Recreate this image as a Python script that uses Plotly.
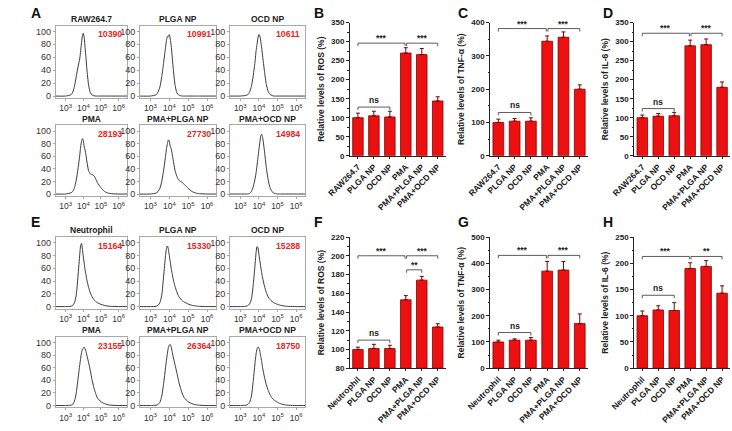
import plotly.graph_objects as go

W, H = 732, 431

# flow cytometry histograms: common log10 intensity grid and % of max counts
hist_log_x = [2.4, 3.0, 3.3, 3.4, 3.5, 3.6, 3.7, 3.8, 3.85, 3.9, 3.95, 4.0, 4.05, 4.1,
              4.15, 4.2, 4.3, 4.4, 4.5, 4.6, 4.7, 4.8, 5.0, 5.2, 5.4, 5.6, 6.0, 6.6]

a_raw = [0, 0, 2, 6, 15, 30, 45, 58, 70, 83, 93, 97, 90, 75, 60, 42, 17, 5, 1.5, 0.5, 0, 0, 0, 0, 0, 0, 0, 0]
a_plga = [0, 0, 2, 6, 14, 30, 52, 75, 86, 92, 92, 95, 88, 78, 62, 45, 18, 5, 1.5, 0.5, 0, 0, 0, 0, 0, 0, 0, 0]
a_ocd = [0, 0, 1, 2, 6, 15, 32, 55, 70, 80, 90, 95, 93, 85, 74, 62, 38, 18, 7, 2.5, 1, 0, 0, 0, 0, 0, 0, 0]
a_pma = [0, 0, 2, 4, 10, 22, 40, 62, 75, 84, 88, 85, 75, 70, 62, 52, 37, 32, 31, 29, 24, 18, 10, 4, 1.5, 0.5, 0, 0]
a_pma_plga = [0, 0, 1.5, 4, 9, 20, 38, 60, 72, 80, 86, 84, 76, 72, 64, 55, 38, 28, 22, 20, 18, 15, 9, 4, 1.5, 0.5, 0, 0]
a_pma_ocd = [0, 0, 0, 0, 1, 4, 12, 25, 34, 45, 58, 70, 82, 92, 95, 90, 68, 42, 22, 10, 4, 1.5, 0, 0, 0, 0, 0, 0]

e_neu = [0, 0, 0.5, 2, 6, 18, 48, 82, 96, 99, 90, 78, 68, 58, 50, 42, 30, 21, 15, 11, 8, 6, 3.5, 1.8, 0.8, 0.3, 0, 0]
e_plga = [0, 0, 0.5, 2, 6, 18, 48, 80, 91, 95, 90, 80, 70, 60, 52, 44, 32, 23, 16, 12, 9, 7, 4, 2, 1, 0.4, 0, 0]
e_ocd = [0, 0, 0.5, 1.5, 4, 12, 35, 68, 85, 94, 92, 82, 72, 62, 53, 45, 32, 22, 15, 11, 8, 6, 3.5, 1.8, 0.8, 0.3, 0, 0]
e_pma = [0, 0, 0.5, 2, 7, 20, 42, 65, 75, 84, 89, 91, 93, 90, 86, 80, 68, 55, 40, 28, 19, 12, 6, 3, 1.2, 0.4, 0, 0]
e_pma_plga = [0, 0, 0.5, 1.5, 5, 15, 35, 60, 72, 83, 92, 96, 97, 93, 86, 78, 65, 52, 38, 27, 18, 12, 6, 3, 1.2, 0.4, 0, 0]
e_pma_ocd = [0, 0, 0.5, 1.5, 5, 15, 40, 70, 82, 90, 93, 92, 86, 78, 70, 60, 45, 33, 24, 17, 12, 9, 5, 2.5, 1, 0.4, 0, 0]

a_titles = ["RAW264.7", "PLGA NP", "OCD NP", "PMA", "PMA+PLGA NP", "PMA+OCD NP"]
a_mfi = ["10390", "10991", "10611", "28193", "27730", "14984"]
e_titles = ["Neutrophil", "PLGA NP", "OCD NP", "PMA", "PMA+PLGA NP", "PMA+OCD NP"]
e_mfi = ["15164", "15330", "15288", "23155", "26364", "18750"]

# bar charts
raw_groups = ["RAW264.7", "PLGA NP", "OCD NP", "PMA", "PMA+PLGA NP", "PMA+OCD NP"]
neu_groups = ["Neutrophil", "PLGA NP", "OCD NP", "PMA", "PMA+PLGA NP", "PMA+OCD NP"]

ros_raw = [100, 105, 102, 270, 266, 144]
ros_raw_err = [12, 12, 15, 14, 16, 11]
tnf_raw = [100, 104, 104, 344, 356, 200]
tnf_raw_err = [10, 8, 10, 16, 16, 13]
il6_raw = [100, 104, 105, 289, 292, 180]
il6_raw_err = [7, 7, 9, 15, 15, 14]
ros_neu = [100, 101, 101, 153, 174, 124]
ros_neu_err = [2.5, 4.5, 3.5, 4.5, 4, 3.5]
tnf_neu = [100, 107, 107, 370, 374, 170]
tnf_neu_err = [7, 5, 10, 37, 33, 37]
il6_neu = [100, 111, 110, 190, 194, 143]
il6_neu_err = [9, 8, 15, 11, 11, 14]

# significance brackets: (from, to, level, label)
sig_b = [(0, 2, 128, "ns"), (0, 3, 296, "***"), (3, 5, 296, "***")]
sig_c = [(0, 2, 130, "ns"), (0, 3, 382, "***"), (3, 5, 382, "***")]
sig_d = [(0, 2, 124, "ns"), (0, 3, 322, "***"), (3, 5, 322, "***")]
sig_f = [(0, 2, 110, "ns"), (0, 3, 200, "***"), (3, 5, 200, "***"), (3, 4, 185, "**")]
sig_g = [(0, 2, 136, "ns"), (0, 3, 430, "***"), (3, 5, 430, "***")]
sig_h = [(0, 2, 139, "ns"), (0, 3, 213, "***"), (3, 5, 213, "**")]

FONT = "Liberation Sans, Arial, sans-serif"

fig = go.Figure()
layout = {}
annotations = []
shapes = []


def dom_x(a, b):
    return [a / W, b / W]


def dom_y(top, bottom):
    return [1 - bottom / H, 1 - top / H]


def names(n):
    return ("xaxis" if n == 1 else f"xaxis{n}", "yaxis" if n == 1 else f"yaxis{n}",
            "x" if n == 1 else f"x{n}", "y" if n == 1 else f"y{n}")


hist_cols = [(33, 107), (120, 199), (213, 291)]
hist_rows = [(22, 96), (124, 196), (238, 311), (340, 412)]
hist_sets = [a_raw, a_plga, a_ocd, a_pma, a_pma_plga, a_pma_ocd,
             e_neu, e_plga, e_ocd, e_pma, e_pma_plga, e_pma_ocd]
hist_titles = a_titles + e_titles
hist_mfi = a_mfi + e_mfi

n = 0
for k, counts in enumerate(hist_sets):
    n += 1
    xa, ya, xr, yr = names(n)
    row, col = divmod(k, 3)
    x0, x1 = hist_cols[col]
    top, bot = hist_rows[row]
    fig.add_trace(go.Scatter(
        x=[10 ** v for v in hist_log_x], y=counts, mode="lines",
        line=dict(color="#3a3a3a", width=1, shape="spline", smoothing=0.6),
        xaxis=xr, yaxis=yr, showlegend=False, hoverinfo="skip"))
    layout[xa] = dict(domain=dom_x(x0, x1), anchor=yr, type="log", range=[2.45, 6.5],
                      tickvals=[1e3, 1e4, 1e5, 1e6],
                      ticktext=["10<sup>3</sup>", "10<sup>4</sup>", "10<sup>5</sup>", "10<sup>6</sup>"],
                      showline=True, mirror=True, linecolor="#a8a8a8", linewidth=1,
                      ticks="outside", ticklen=2, tickcolor="#a8a8a8",
                      tickfont=dict(size=8.5, color="#333"), showgrid=False, zeroline=False)
    layout[ya] = dict(domain=dom_y(top, bot), anchor=xr, range=[-3, 109],
                      tickvals=[0, 20, 40, 60, 80, 100],
                      showline=True, mirror=True, linecolor="#a8a8a8", linewidth=1,
                      ticks="outside", ticklen=2, tickcolor="#a8a8a8",
                      tickfont=dict(size=9, color="#333"), showgrid=False, zeroline=False)
    annotations.append(dict(text=hist_titles[k], xref="paper", yref="paper",
                            x=(x0 + x1) / 2 / W, y=1 - (top - 7) / H,
                            showarrow=False, xanchor="center", yanchor="middle",
                            font=dict(size=8.5, color="#222", weight="bold")))
    annotations.append(dict(text=hist_mfi[k], xref="paper", yref="paper",
                            x=(x1 - 4) / W, y=1 - (top + 9) / H,
                            showarrow=False, xanchor="right", yanchor="middle",
                            font=dict(size=8.7, color="#e32626", weight="bold")))

bar_panels = [
    (raw_groups, ros_raw, ros_raw_err, sig_b, "Relative levels of ROS (%)", [0, 350], 50, (337, 436), (19, 155)),
    (raw_groups, tnf_raw, tnf_raw_err, sig_c, "Relative levels of TNF-α (%)", [0, 400], 100, (482, 583), (19, 155)),
    (raw_groups, il6_raw, il6_raw_err, sig_d, "Relative levels of IL-6 (%)", [0, 350], 50, (631, 730), (19, 155)),
    (neu_groups, ros_neu, ros_neu_err, sig_f, "Relative levels of ROS (%)", [80, 220], 20, (337, 436), (238, 372)),
    (neu_groups, tnf_neu, tnf_neu_err, sig_g, "Relative levels of TNF-α (%)", [0, 500], 100, (482, 583), (238, 372)),
    (neu_groups, il6_neu, il6_neu_err, sig_h, "Relative levels of IL-6 (%)", [0, 250], 50, (631, 730), (238, 372)),
]

for groups, vals, errs, sigs, ytitle, yrange, dtick, (x0, x1), (top, bot) in bar_panels:
    n += 1
    xa, ya, xr, yr = names(n)
    idx = list(range(len(groups)))
    fig.add_trace(go.Bar(
        x=idx, y=[v - yrange[0] for v in vals], base=yrange[0], width=0.66,
        marker=dict(color="#ec1010", line=dict(color="#8c0000", width=0.8)),
        error_y=dict(type="data", symmetric=False, array=errs, arrayminus=[0] * len(errs),
                     color="#7a0000", thickness=1, width=2),
        xaxis=xr, yaxis=yr, showlegend=False, hoverinfo="skip"))
    layout[xa] = dict(domain=dom_x(x0, x1), anchor=yr, range=[-0.5, 5.5],
                      tickvals=idx, ticktext=groups, tickangle=-45,
                      ticklabeloverflow="allow",
                      showline=True, linecolor="#222", linewidth=1,
                      ticks="outside", ticklen=2, tickcolor="#222",
                      tickfont=dict(size=8.5, color="#222", weight="bold"),
                      showgrid=False, zeroline=False)
    layout[ya] = dict(domain=dom_y(top, bot), anchor=xr, range=yrange, dtick=dtick,
                      showline=True, linecolor="#222", linewidth=1,
                      ticks="outside", ticklen=3, tickcolor="#222",
                      minor=dict(ticks="outside", ticklen=1.5, tickcolor="#222", dtick=dtick / 2),
                      tickfont=dict(size=8, color="#222", weight="bold"),
                      title=dict(text=ytitle, standoff=5,
                                 font=dict(size=8.5, color="#222", weight="bold")),
                      showgrid=False, zeroline=False)
    leg = (yrange[1] - yrange[0]) / (bot - top) * 3
    for i0, i1, lvl, lab in sigs:
        a = i0 + (0.05 if i0 == 3 else 0)
        b = i1 - (0.05 if i1 == 3 else 0)
        shapes.append(dict(type="path", xref=xr, yref=yr,
                           path=f"M {a} {lvl - leg} L {a} {lvl} L {b} {lvl} L {b} {lvl - leg}",
                           line=dict(color="#333", width=0.8)))
        annotations.append(dict(text=lab, xref=xr, yref=yr, x=(a + b) / 2, y=lvl,
                                showarrow=False, xanchor="center", yanchor="bottom",
                                yshift=-2 if "*" in lab else 0,
                                font=dict(size=8.5, color="#222", weight="bold")))

for lab, px, py in [("A", 5, 9), ("B", 298, 9), ("C", 447, 9), ("D", 597, 9),
                    ("E", 5, 223), ("F", 298, 223), ("G", 447, 223), ("H", 597, 223)]:
    annotations.append(dict(text=lab, xref="paper", yref="paper", x=px / W, y=1 - py / H,
                            showarrow=False, xanchor="left", yanchor="middle",
                            font=dict(size=14, color="#111", weight="bold")))

fig.update_layout(**layout)
fig.update_layout(width=W, height=H, margin=dict(l=0, r=0, t=0, b=0),
                  paper_bgcolor="white", plot_bgcolor="white",
                  font=dict(family=FONT), annotations=annotations, shapes=shapes,
                  bargap=0.3)
# the page body has a default 8px margin; drop it so the figure fills the window
fig.write_html("out.html", config={"displayModeBar": False},
               post_script="document.body.style.margin = '0';")
